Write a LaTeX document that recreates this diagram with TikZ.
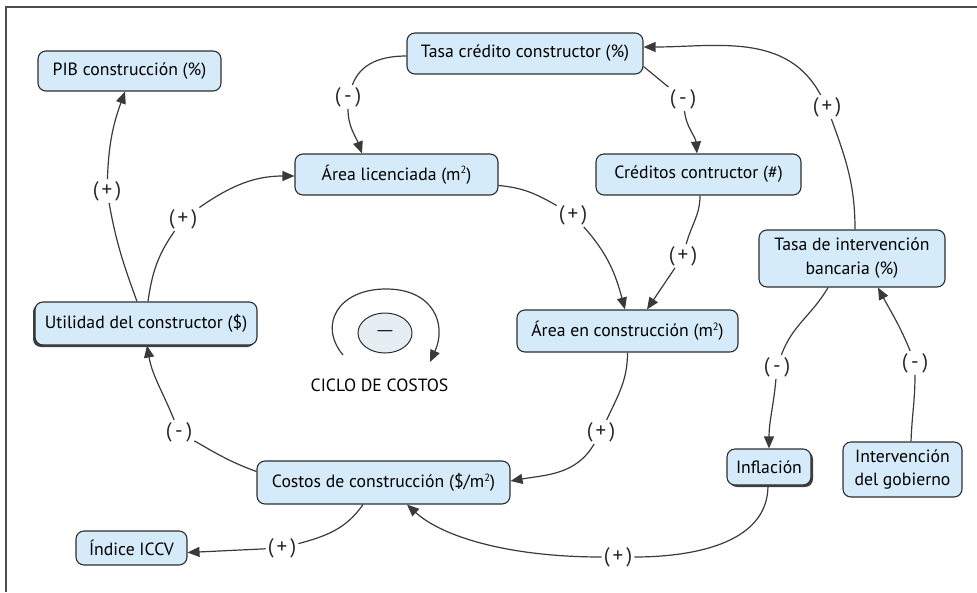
\documentclass[tikz,border=0pt]{standalone}
\usepackage{fontspec}
\setmainfont{PT Sans}
\usetikzlibrary{arrows.meta,shadows,shapes.geometric}
\definecolor{boxfill}{HTML}{D6EBF9}
\definecolor{boxline}{HTML}{2E2E2E}
\definecolor{linkcol}{HTML}{3A3A3A}
\definecolor{loopfill}{HTML}{E6EEF3}
% small raised square sign
\newcommand{\sqsup}{\raisebox{0.75ex}{\fontsize{10.5}{10.5}\selectfont 2}}
\newcommand{\plussign}{(\hspace{3pt}+\hspace{3pt})}
\newcommand{\minussign}{(\hspace{3.5pt}-\hspace{3.5pt})}
\begin{document}
\begin{tikzpicture}[x=1pt,y=1pt,
  box/.style={draw=boxline, line width=1.1pt, fill=boxfill, rounded corners=8pt,
    inner sep=0pt, align=center, font=\fontsize{17.7}{24}\selectfont},
  sign/.style={inner sep=2pt, font=\fontsize{21}{22}\selectfont, text=black!85},
  link/.style={draw=linkcol, line width=1.2pt},
  tip/.style={-{Triangle[length=12pt,width=10pt]}},
  shadowleft/.style={drop shadow={shadow xshift=-2pt, shadow yshift=-2pt, fill=black!75, opacity=1}},
  shadowright/.style={drop shadow={shadow xshift=2pt, shadow yshift=-2pt, fill=black!75, opacity=1}},
]
\useasboundingbox (0,0) rectangle (977,-592);
% frame
\draw[line width=1.4pt, black!70] (6,-592) -- (6,-7) -- (977,-7);

% variables
\node[box, minimum width=183pt, minimum height=40pt] (pib) at (129.5,-71) {PIB construcción (\%)};
\node[box, minimum width=236pt, minimum height=41pt] (tcc) at (525,-53.5) {Tasa crédito constructor (\%)};
\node[box, minimum width=203pt, minimum height=41pt] (alic) at (396.5,-174.5) {Área licenciada (m\sqsup)};
\node[box, minimum width=205pt, minimum height=41pt] (cred) at (698.5,-174.5) {Créditos contructor (\#)};
\node[box, minimum width=186pt, minimum height=57pt] (tib) at (852,-258.5) {Tasa de intervención\\bancaria (\%)};
\node[box, shadowleft, minimum width=222pt, minimum height=43pt] (util) at (146,-323.5) {Utilidad del constructor (\$)};
\node[box, minimum width=221pt, minimum height=42pt] (aec) at (627.5,-331) {Área en construcción (m\sqsup)};
\node[box, minimum width=253pt, minimum height=43pt] (costos) at (383.5,-482.5) {Costos de construcción (\$/m\sqsup)};
\node[box, minimum width=111pt, minimum height=34pt] (iccv) at (131.5,-548) {Índice ICCV};
\node[box, shadowright, minimum width=84pt, minimum height=36pt] (infl) at (769,-467) {Inflación};
\node[box, font=\fontsize{17.7}{23}\selectfont, minimum width=119pt, minimum height=55pt] (gob) at (902.5,-469.5) {Intervención\\del gobierno};

% polarity signs
\node[sign] (s1) at (107,-191) {\plussign};
\node[sign] (s2) at (183,-219) {\plussign};
\node[sign] (s3) at (348,-97) {\minussign};
\node[sign] (s4) at (683,-99) {\minussign};
\node[sign] (s5) at (827,-107) {\plussign};
\node[sign] (s6) at (573,-215) {\plussign};
\node[sign] (s7) at (683,-256) {\plussign};
\node[sign] (s8) at (601,-432) {\plussign};
\node[sign] (s9) at (179,-432) {\minussign};
\node[sign] (s10) at (282,-548) {\plussign};
\node[sign] (s11) at (618,-557) {\plussign};
\node[sign] (s12) at (777,-367) {\minussign};
\node[sign] (s13) at (915,-363) {\minussign};

% links
\draw[link] ([xshift=-9pt]util.north) to[out=110,in=-80] (s1);
\draw[link,tip] (s1) to[out=88,in=-110] ([xshift=-4.5pt]pib.south);

\draw[link] ([xshift=2pt]util.north) to[out=82,in=-125] (s2);
\draw[link,tip] (s2) to[out=35,in=180] ([yshift=-1.5pt]alic.west);

\draw[link] ([yshift=-2.5pt]tcc.west) to[out=180,in=70] (s3);
\draw[link,tip] (s3) to[out=-90,in=110] ([xshift=-34.5pt]alic.north);

\draw[link] ([yshift=-13pt]tcc.east) -- (s4);
\draw[link,tip] (s4) to[out=-83,in=95] ([xshift=-1.5pt]cred.north);

\draw[link] ([xshift=3pt]tib.north) to[out=90,in=-70] (s5);
\draw[link,tip] (s5) to[out=118,in=0] ([yshift=6.5pt]tcc.east);

\draw[link] ([yshift=-11pt]alic.east) to[out=-5,in=150] (s6);
\draw[link,tip] (s6) to[out=-48,in=105] ([xshift=-2.5pt]aec.north);

\draw[link] ([xshift=1.5pt]cred.south) to[out=-90,in=75] (s7);
\draw[link,tip] (s7) -- ([xshift=19.5pt]aec.north);

\draw[link] (aec.south) to[out=-90,in=65] (s8);
\draw[link,tip] (s8) to[out=-120,in=10] ([yshift=1.5pt]costos.east);

\draw[link] ([yshift=11pt]costos.west) to[out=160,in=-30] (s9);
\draw[link,tip] (s9) to[out=112,in=-80] ([xshift=1pt]util.south);

\draw[link] ([xshift=-20.5pt]costos.south) to[out=-125,in=15] (s10);
\draw[link,tip] (s10) -- ([yshift=-4.5pt]iccv.east);

\draw[link] ([xshift=-1pt]infl.south) .. controls +(0,-60) and +(70,0) .. (s11);
\draw[link,tip] (s11) .. controls +(-110,0) and +(35,-32) .. ([xshift=23.5pt]costos.south);

\draw[link] ([xshift=-24pt]tib.south) to[out=-120,in=70] (s12);
\draw[link,tip] (s12) to[out=-95,in=90] (infl.north);

\draw[link] ([xshift=8.5pt]gob.north) to[out=88,in=-90] (s13);
\draw[link,tip] (s13) to[out=112,in=-62] ([xshift=26pt]tib.south);

% loop marker
\node[draw=boxline, line width=1pt, fill=loopfill, ellipse, minimum width=54pt,
  minimum height=40pt, inner sep=0pt, font=\fontsize{15}{15}\selectfont] (loopsign) at (385,-333) {\scalebox{1.7}[1]{—}};
\draw[link,tip] (343,-355) .. controls (318,-325) and (338,-289) .. (386,-289)
  .. controls (434,-289) and (447,-325) .. (430,-362);
\node[font=\fontsize{17.7}{20}\selectfont] (looplabel) at (379.5,-385) {CICLO DE COSTOS};
\end{tikzpicture}
\end{document}
